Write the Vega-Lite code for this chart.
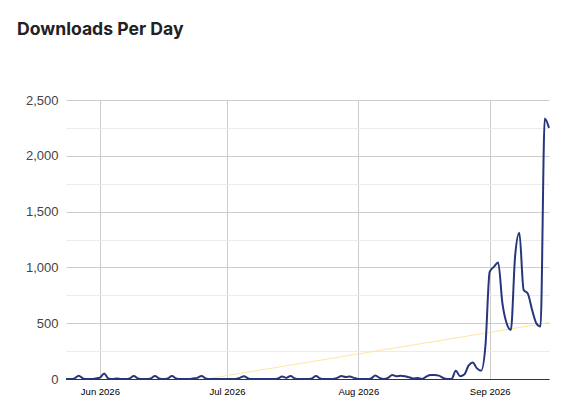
{
  "$schema": "https://vega.github.io/schema/vega-lite/v6.json",
  "autosize": {"type": "none"},
  "padding": {"left": 66, "top": 100, "right": 31, "bottom": 39},
  "width": 483,
  "height": 279,
  "background": "white",
  "title": {
    "text": "Downloads Per Day",
    "anchor": "start",
    "frame": "group",
    "font": "Inter",
    "fontSize": 17.6,
    "fontWeight": "bold",
    "color": "#222222",
    "baseline": "alphabetic",
    "offset": 0,
    "dx": -49,
    "dy": -41
  },
  "config": {
    "view": {"stroke": null},
    "axis": {"labelFont": "Liberation Sans", "title": null}
  },
  "datasets": {
    "daily": [
      {"date": "2026-05-24", "downloads": 0},
      {"date": "2026-05-25", "downloads": 0},
      {"date": "2026-05-26", "downloads": 5},
      {"date": "2026-05-27", "downloads": 30},
      {"date": "2026-05-28", "downloads": 5},
      {"date": "2026-05-29", "downloads": 0},
      {"date": "2026-05-30", "downloads": 0},
      {"date": "2026-05-31", "downloads": 5},
      {"date": "2026-06-01", "downloads": 12},
      {"date": "2026-06-02", "downloads": 50},
      {"date": "2026-06-03", "downloads": 5},
      {"date": "2026-06-04", "downloads": 0},
      {"date": "2026-06-05", "downloads": 5},
      {"date": "2026-06-06", "downloads": 0},
      {"date": "2026-06-07", "downloads": 0},
      {"date": "2026-06-08", "downloads": 5},
      {"date": "2026-06-09", "downloads": 27},
      {"date": "2026-06-10", "downloads": 5},
      {"date": "2026-06-11", "downloads": 0},
      {"date": "2026-06-12", "downloads": 0},
      {"date": "2026-06-13", "downloads": 5},
      {"date": "2026-06-14", "downloads": 27},
      {"date": "2026-06-15", "downloads": 5},
      {"date": "2026-06-16", "downloads": 0},
      {"date": "2026-06-17", "downloads": 5},
      {"date": "2026-06-18", "downloads": 27},
      {"date": "2026-06-19", "downloads": 5},
      {"date": "2026-06-20", "downloads": 0},
      {"date": "2026-06-21", "downloads": 0},
      {"date": "2026-06-22", "downloads": 0},
      {"date": "2026-06-23", "downloads": 5},
      {"date": "2026-06-24", "downloads": 10},
      {"date": "2026-06-25", "downloads": 27},
      {"date": "2026-06-26", "downloads": 5},
      {"date": "2026-06-27", "downloads": 0},
      {"date": "2026-06-28", "downloads": 0},
      {"date": "2026-06-29", "downloads": 0},
      {"date": "2026-06-30", "downloads": 0},
      {"date": "2026-07-01", "downloads": 0},
      {"date": "2026-07-02", "downloads": 0},
      {"date": "2026-07-03", "downloads": 0},
      {"date": "2026-07-04", "downloads": 10},
      {"date": "2026-07-05", "downloads": 24},
      {"date": "2026-07-06", "downloads": 5},
      {"date": "2026-07-07", "downloads": 0},
      {"date": "2026-07-08", "downloads": 0},
      {"date": "2026-07-09", "downloads": 0},
      {"date": "2026-07-10", "downloads": 0},
      {"date": "2026-07-11", "downloads": 0},
      {"date": "2026-07-12", "downloads": 0},
      {"date": "2026-07-13", "downloads": 5},
      {"date": "2026-07-14", "downloads": 22},
      {"date": "2026-07-15", "downloads": 10},
      {"date": "2026-07-16", "downloads": 27},
      {"date": "2026-07-17", "downloads": 5},
      {"date": "2026-07-18", "downloads": 0},
      {"date": "2026-07-19", "downloads": 0},
      {"date": "2026-07-20", "downloads": 0},
      {"date": "2026-07-21", "downloads": 5},
      {"date": "2026-07-22", "downloads": 27},
      {"date": "2026-07-23", "downloads": 5},
      {"date": "2026-07-24", "downloads": 0},
      {"date": "2026-07-25", "downloads": 0},
      {"date": "2026-07-26", "downloads": 0},
      {"date": "2026-07-27", "downloads": 10},
      {"date": "2026-07-28", "downloads": 27},
      {"date": "2026-07-29", "downloads": 18},
      {"date": "2026-07-30", "downloads": 22},
      {"date": "2026-07-31", "downloads": 10},
      {"date": "2026-08-01", "downloads": 0},
      {"date": "2026-08-02", "downloads": 0},
      {"date": "2026-08-03", "downloads": 0},
      {"date": "2026-08-04", "downloads": 5},
      {"date": "2026-08-05", "downloads": 32},
      {"date": "2026-08-06", "downloads": 10},
      {"date": "2026-08-07", "downloads": 0},
      {"date": "2026-08-08", "downloads": 10},
      {"date": "2026-08-09", "downloads": 35},
      {"date": "2026-08-10", "downloads": 25},
      {"date": "2026-08-11", "downloads": 30},
      {"date": "2026-08-12", "downloads": 25},
      {"date": "2026-08-13", "downloads": 15},
      {"date": "2026-08-14", "downloads": 5},
      {"date": "2026-08-15", "downloads": 10},
      {"date": "2026-08-16", "downloads": 0},
      {"date": "2026-08-17", "downloads": 20},
      {"date": "2026-08-18", "downloads": 35},
      {"date": "2026-08-19", "downloads": 35},
      {"date": "2026-08-20", "downloads": 30},
      {"date": "2026-08-21", "downloads": 10},
      {"date": "2026-08-22", "downloads": 0},
      {"date": "2026-08-23", "downloads": 0},
      {"date": "2026-08-24", "downloads": 75},
      {"date": "2026-08-25", "downloads": 25},
      {"date": "2026-08-26", "downloads": 40},
      {"date": "2026-08-27", "downloads": 120},
      {"date": "2026-08-28", "downloads": 148},
      {"date": "2026-08-29", "downloads": 95},
      {"date": "2026-08-30", "downloads": 75},
      {"date": "2026-08-31", "downloads": 300},
      {"date": "2026-09-01", "downloads": 960},
      {"date": "2026-09-02", "downloads": 1005},
      {"date": "2026-09-03", "downloads": 1045},
      {"date": "2026-09-04", "downloads": 680},
      {"date": "2026-09-05", "downloads": 500},
      {"date": "2026-09-06", "downloads": 440},
      {"date": "2026-09-07", "downloads": 1100},
      {"date": "2026-09-08", "downloads": 1310},
      {"date": "2026-09-09", "downloads": 800},
      {"date": "2026-09-10", "downloads": 765},
      {"date": "2026-09-11", "downloads": 620},
      {"date": "2026-09-12", "downloads": 500},
      {"date": "2026-09-13", "downloads": 470},
      {"date": "2026-09-14", "downloads": 2335},
      {"date": "2026-09-15", "downloads": 2250}
    ],
    "trend": [
      {"date": "2026-06-26", "trend": 0},
      {"date": "2026-09-15", "trend": 505}
    ]
  },
  "resolve": {"axis": {"y": "independent"}},
  "layer": [
    {
      "data": {"name": "trend"},
      "mark": {"type": "line", "color": "#fde6a4", "strokeWidth": 1, "clip": true},
      "encoding": {
        "x": {
          "field": "date",
          "type": "temporal",
          "axis": {
            "values": [
              {"year": 2026, "month": 6, "date": 1},
              {"year": 2026, "month": 7, "date": 1},
              {"year": 2026, "month": 8, "date": 1},
              {"year": 2026, "month": 9, "date": 1}
            ],
            "format": "%b %Y",
            "labelFontSize": 9.5,
            "labelColor": "#000000",
            "labelPadding": 7,
            "grid": true,
            "gridColor": "#cccccc",
            "ticks": false,
            "domainColor": "#333333",
            "domainWidth": 1
          }
        },
        "y": {
          "field": "trend",
          "type": "quantitative",
          "scale": {"domain": [0, 2500], "nice": false},
          "axis": {
            "orient": "left",
            "values": [250, 750, 1250, 1750, 2250],
            "grid": true,
            "gridColor": "#ebebeb",
            "labels": false,
            "ticks": false,
            "domain": false
          }
        }
      }
    },
    {
      "data": {"name": "daily"},
      "mark": {"type": "line", "color": "#27367a", "strokeWidth": 2, "interpolate": "monotone"},
      "encoding": {
        "x": {
          "field": "date",
          "type": "temporal",
          "axis": {
            "values": [
              {"year": 2026, "month": 6, "date": 1},
              {"year": 2026, "month": 7, "date": 1},
              {"year": 2026, "month": 8, "date": 1},
              {"year": 2026, "month": 9, "date": 1}
            ],
            "format": "%b %Y",
            "labelFontSize": 9.5,
            "labelColor": "#000000",
            "labelPadding": 7,
            "grid": true,
            "gridColor": "#cccccc",
            "ticks": false,
            "domainColor": "#333333",
            "domainWidth": 1
          }
        },
        "y": {
          "field": "downloads",
          "type": "quantitative",
          "scale": {"domain": [0, 2500], "nice": false},
          "axis": {
            "orient": "left",
            "values": [0, 500, 1000, 1500, 2000, 2500],
            "format": ",d",
            "grid": true,
            "gridColor": "#cccccc",
            "labelFontSize": 13,
            "labelColor": "#444444",
            "labelPadding": 8,
            "ticks": false,
            "domain": false
          }
        }
      }
    }
  ]
}
